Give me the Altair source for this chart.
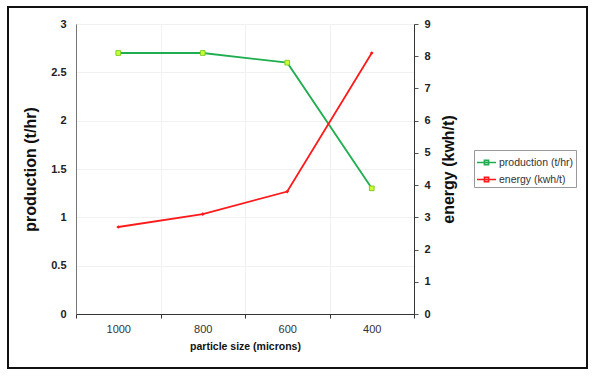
import altair as alt
import pandas as pd

sizes = ["1000", "800", "600", "400"]
production = [2.7, 2.7, 2.6, 1.3]
energy = [2.7, 3.1, 3.8, 8.1]

series_names = ["production (t/hr)", "energy (kwh/t)"]
series_colors = ["#1fae4f", "#ff1a1a"]

df = pd.DataFrame({"size": sizes, "production": production, "energy": energy})
df_prod = df.assign(series=series_names[0])
df_energy = df.assign(series=series_names[1])

FONT = "Liberation Sans"

x_enc = alt.X(
    "size:N",
    sort=sizes,
    scale=alt.Scale(paddingInner=0, paddingOuter=0),
    axis=alt.Axis(
        title="particle size (microns)",
        labelAngle=0,
        tickBand="extent",
        grid=True,
        gridColor="#f1f1f1",
        tickSize=4,
        tickColor="#333",
        domainColor="#333",
        labelPadding=5,
        labelFontSize=11,
        labelColor="#333",
        labelFont=FONT,
        titleFont=FONT,
        titleFontSize=10.5,
        titleFontWeight="bold",
        titleColor="#111",
        titlePadding=7,
    ),
)

y_prod = alt.Y(
    "production:Q",
    scale=alt.Scale(domain=[0, 3]),
    axis=alt.Axis(
        title="production (t/hr)",
        values=[0, 0.5, 1, 1.5, 2, 2.5, 3],
        format="~g",
        ticks=False,
        labelPadding=10,
        grid=True,
        gridColor="#f1f1f1",
        domainColor="#777",
        labelFont=FONT,
        labelFontSize=11,
        labelFontWeight="bold",
        labelColor="#222",
        titleFont=FONT,
        titleFontSize=16,
        titleFontWeight="bold",
        titleColor="#111",
        titlePadding=12,
    ),
)

y_energy = alt.Y(
    "energy:Q",
    scale=alt.Scale(domain=[0, 9]),
    axis=alt.Axis(
        orient="right",
        title="energy (kwh/t)",
        titleAngle=270,
        titleBaseline="top",
        values=list(range(0, 10)),
        tickSize=4,
        tickColor="#555",
        domainColor="#333",
        labelPadding=6,
        grid=False,
        labelFont=FONT,
        labelFontSize=11,
        labelFontWeight="bold",
        labelColor="#222",
        titleFont=FONT,
        titleFontSize=16,
        titleFontWeight="bold",
        titleColor="#111",
        titlePadding=10,
    ),
)

color_scale = alt.Scale(domain=series_names, range=series_colors)
legend = alt.Legend(
    title=None,
    orient="none",
    legendX=398,
    legendY=126,
    direction="vertical",
    strokeColor="#999",
    fillColor="white",
    padding=2,
    rowPadding=1,
    labelFont=FONT,
    labelFontSize=10.5,
    labelColor="#333",
    symbolType="M-1,0H1M-0.22,-0.22H0.22V0.22H-0.22Z",
    symbolSize=361,
    symbolStrokeWidth=1.6,
    labelOffset=2,
)
color_enc = alt.Color("series:N", scale=color_scale, legend=legend)

prod_line = alt.Chart(df_prod).mark_line(strokeWidth=1.8).encode(
    x=x_enc, y=y_prod, color=color_enc
)
prod_pts = alt.Chart(df_prod).mark_point(
    shape="square", size=22, filled=True, fill="#ccff33", stroke="#7ccf2a", strokeWidth=1, opacity=1
).encode(x=x_enc, y=y_prod)

energy_line = alt.Chart(df_energy).mark_line(strokeWidth=1.8).encode(
    x=x_enc, y=y_energy, color=color_enc
)
energy_pts = alt.Chart(df_energy).mark_point(
    shape="diamond", size=14, filled=True, color="#ff1a1a", opacity=1
).encode(x=x_enc, y=y_energy)

frame = alt.Chart(pd.DataFrame({"a": [0]})).mark_rect(
    fill="transparent", stroke="#111", strokeWidth=2, clip=False
).encode(
    x=alt.value(-68), x2=alt.value(511), y=alt.value(-17), y2=alt.value(344)
)

left = alt.layer(prod_line, prod_pts)
right = alt.layer(energy_line, energy_pts)

chart = (
    alt.layer(left, right, frame)
    .resolve_scale(y="independent")
    .properties(
        width=338,
        height=290,
        autosize=alt.AutoSizeParams(type="none"),
        padding={"left": 76, "top": 24, "right": 186, "bottom": 63},
        background="white",
    )
    .configure_view(stroke="#444", strokeWidth=1)
)

chart.save("out.html", embed_options={"renderer": "svg", "actions": False})
